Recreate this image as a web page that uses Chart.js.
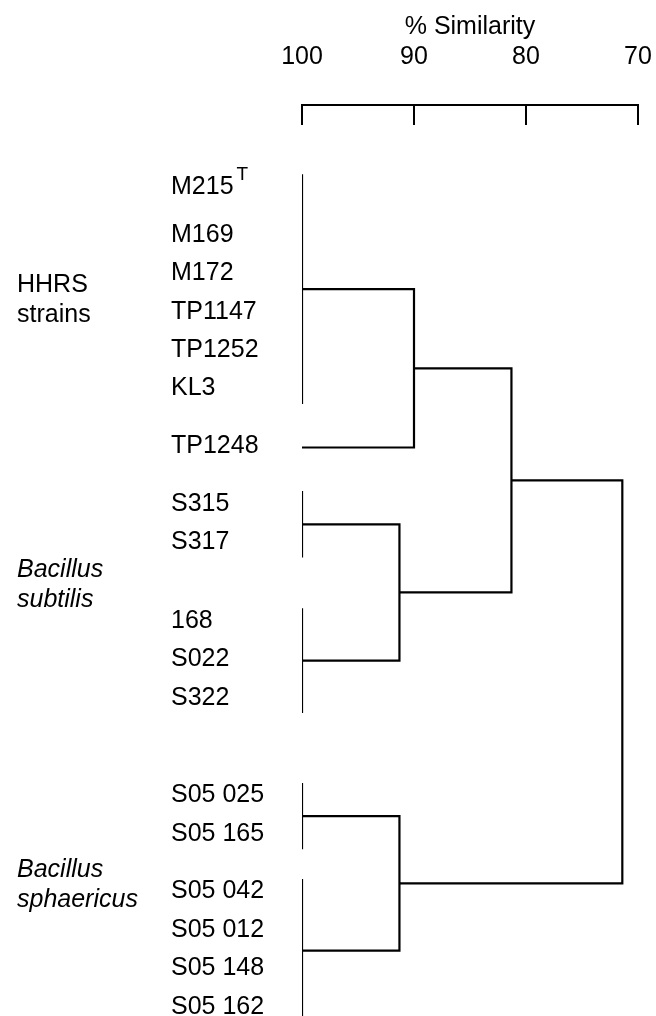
<!DOCTYPE html>
<html>
<head>
<meta charset="utf-8">
<script src="https://cdn.jsdelivr.net/npm/chart.js@4/dist/chart.umd.min.js"></script>
<style>
  body { margin: 0; background: #fff; }
  #wrap { width: 656px; height: 1016px; }
</style>
</head>
<body>
<div id="wrap"><canvas id="dendro"></canvas></div>
<script>
// strains, top to bottom
const strains = ['M215', 'M169', 'M172', 'TP1147', 'TP1252', 'KL3', 'TP1248',
  'S315', 'S317', '168', 'S022', 'S322',
  'S05 025', 'S05 165', 'S05 042', 'S05 012', 'S05 148', 'S05 162'];
// row of each strain in the figure (gaps between blocks kept)
const leafRows = [0, 1.25, 2.25, 3.25, 4.25, 5.25, 6.75,
  8.25, 9.25, 11.3, 12.3, 13.3,
  15.85, 16.85, 18.35, 19.35, 20.35, 21.35];
const typeStrain = 0; // M215 is the type strain (T)

// strains that are 100 % similar: [first, last]
const identical = [[0, 5], [6, 6], [7, 8], [9, 11], [12, 13], [14, 17]];
// joins: [node, node, % similarity]; nodes 0-5 are the groups above, new ones get 6, 7 ...
const joins = [
  [0, 1, 90.0],
  [2, 3, 91.3],
  [6, 7, 81.3],
  [4, 5, 91.3],
  [8, 9, 71.4],
];

const groupNames = [['HHRS', 'strains'], ['Bacillus', 'subtilis'], ['Bacillus', 'sphaericus']];
const groupLeaves = [[0, 6], [7, 11], [12, 17]];

const simTicks = [100, 90, 80, 70];

// build the brackets
const nodeX = [];
const nodeY = [];
const segments = [];
identical.forEach(([a, b]) => {
  const top = leafRows[a] - 0.33;
  const bottom = leafRows[b] + 0.4;
  if (b > a) segments.push([{ x: 100, y: top }, { x: 100, y: bottom }]);
  nodeX.push(100);
  nodeY.push((top + bottom) / 2);
});
joins.forEach(([l, r, s]) => {
  segments.push([
    { x: nodeX[l], y: nodeY[l] },
    { x: s, y: nodeY[l] },
    { x: s, y: nodeY[r] },
    { x: nodeX[r], y: nodeY[r] },
  ]);
  nodeX.push(s);
  nodeY.push((nodeY[l] + nodeY[r]) / 2);
});

const ink = '#000';
const fontFamily = '"Liberation Sans", Arial, Helvetica, sans-serif';
Chart.defaults.font.family = fontFamily;
Chart.defaults.color = ink;

// tick marks point down from the axis line
const inwardTicks = {
  id: 'inwardTicks',
  afterDraw(chart) {
    const xs = chart.scales.x;
    const ctx = chart.ctx;
    ctx.save();
    ctx.strokeStyle = ink;
    ctx.lineWidth = 2;
    ctx.beginPath();
    xs.ticks.forEach(t => {
      const px = xs.getPixelForValue(t.value);
      ctx.moveTo(px, xs.bottom - 1);
      ctx.lineTo(px, xs.bottom + 20);
    });
    ctx.stroke();
    ctx.restore();
  },
};

// group names at the left, plus the T of the type strain
const sideText = {
  id: 'sideText',
  afterDraw(chart) {
    const ys = chart.scales.y;
    const ctx = chart.ctx;
    ctx.save();
    ctx.fillStyle = ink;
    ctx.textBaseline = 'middle';
    ctx.textAlign = 'left';
    groupNames.forEach((lines, i) => {
      const [a, b] = groupLeaves[i];
      const mid = (leafRows[a] + leafRows[b]) / 2 - 0.42;
      const cy = ys.getPixelForValue(mid);
      ctx.font = (i > 0 ? 'italic ' : '') + '25px ' + fontFamily;
      lines.forEach((txt, k) => {
        ctx.fillText(txt, 17, cy + (k - (lines.length - 1) / 2) * 30);
      });
    });
    ctx.font = '25px ' + fontFamily;
    const w = ctx.measureText(strains[typeStrain]).width;
    const ly = ys.getPixelForValue(leafRows[typeStrain]);
    ctx.font = '19px ' + fontFamily;
    ctx.textBaseline = 'alphabetic';
    ctx.fillText('T', ys.left + w + 3, ly - 7);
    ctx.restore();
  },
};

new Chart(document.getElementById('dendro'), {
  type: 'scatter',
  data: {
    datasets: segments.map(pts => ({
      data: pts,
      showLine: true,
      borderColor: ink,
      borderWidth: 2.2,
      pointRadius: 0,
      pointHoverRadius: 0,
      tension: 0,
    })),
  },
  options: {
    responsive: true,
    maintainAspectRatio: false,
    animation: false,
    layout: { padding: { left: 171, right: 18, top: 0, bottom: 0 } },
    plugins: { legend: { display: false }, tooltip: { enabled: false } },
    scales: {
      x: {
        type: 'linear',
        position: 'top',
        reverse: true,
        min: 70,
        max: 100,
        afterBuildTicks: s => { s.ticks = simTicks.map(v => ({ value: v })); },
        afterFit: s => { s.height = 105; s.paddingLeft = 0; s.paddingRight = 0; },
        ticks: { font: { size: 25 }, color: ink, padding: 33 },
        grid: { display: true, drawOnChartArea: false, drawTicks: false },
        border: { display: true, color: ink, width: 2 },
        title: {
          display: true,
          text: '% Similarity',
          font: { size: 25 },
          color: ink,
          padding: { top: 12, bottom: 0 },
        },
      },
      y: {
        type: 'linear',
        reverse: true,
        min: -2.135,
        max: 21.59,
        afterBuildTicks: s => { s.ticks = leafRows.map(v => ({ value: v })); },
        afterFit: s => { s.width = 131; s.paddingTop = 0; s.paddingBottom = 0; },
        ticks: {
          autoSkip: false,
          crossAlign: 'far',
          font: { size: 25 },
          color: ink,
          callback: (v, i) => strains[i],
        },
        grid: { display: false },
        border: { display: false },
      },
    },
  },
  plugins: [inwardTicks, sideText],
});
</script>
</body>
</html>
